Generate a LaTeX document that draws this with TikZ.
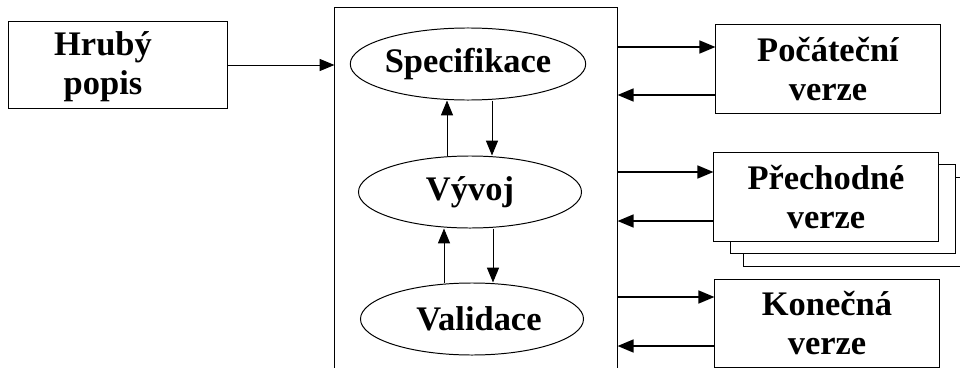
\documentclass[tikz,border=0pt]{standalone}
\usepackage{fontspec}
\setmainfont{Liberation Serif}
\usetikzlibrary{arrows.meta,shapes.geometric}

\begin{document}
\begin{tikzpicture}[x=0.025cm,y=-0.025cm,
    txt/.style={font={\fontsize{24.5}{28}\selectfont\bfseries},align=center},
    box/.style={txt,draw,line width=0.7pt,fill=white,inner sep=0pt,
      minimum width=5.6cm,minimum height=2.2cm},
    phase/.style={txt,draw,ellipse,line width=0.7pt,inner sep=0pt,
      minimum width=5.575cm,minimum height=1.8cm},
    thin/.style={line width=0.7pt,-{Triangle[length=0.37cm,width=0.3cm]}},
    fat/.style={line width=1.5pt,-{Triangle[length=0.4cm,width=0.32cm]}}]
      \useasboundingbox (0,0) rectangle (960,368);
      \clip (0,0) rectangle (960,368);
      \path
      (118,65) node[box,minimum width=5.45cm,minimum height=2.15cm](hrub) {}
      (103,67) node[txt](hrubT) {Hrubý\\popis}
      (476,204) node[draw,line width=0.7pt,minimum width=7.05cm,minimum height=9.8cm](proc) {}
      (468,64) node[phase](spec) {Specifikace}
      (470,192) node[phase](vyv) {Vývoj}
      (472,319) node[phase](val) {\hspace*{0.35cm}Validace}
      (828,69) node[box](poc) {Počáteční\\verze}
      (856,222) node[box](pre3) {}
      (843,209) node[box](pre2) {}
      (826,197) node[box](pre) {Přechodné\\verze}
      (827,323) node[box](kon) {Konečná\\verze}
      ;

      \draw[thin] (hrub.east) -- (hrub.east -| proc.west);

      \draw[thin] (vyv.north -| 447,0) -- (spec.south -| 447,0);
      \draw[thin] (spec.south -| 492,0) -- (vyv.north -| 492,0);
      \draw[thin] (val.north -| 444,0) -- (vyv.south -| 444,0);
      \draw[thin] (vyv.south -| 493,0) -- (val.north -| 493,0);

      \draw[fat] (proc.east |- 0,47) -- (poc.west |- 0,47);
      \draw[fat] (poc.west |- 0,95) -- (proc.east |- 0,95);
      \draw[fat] (proc.east |- 0,172) -- (pre.west |- 0,172);
      \draw[fat] (pre.west |- 0,221) -- (proc.east |- 0,221);
      \draw[fat] (proc.east |- 0,297) -- (kon.west |- 0,297);
      \draw[fat] (kon.west |- 0,346) -- (proc.east |- 0,346);
    \end{tikzpicture}
\end{document}
